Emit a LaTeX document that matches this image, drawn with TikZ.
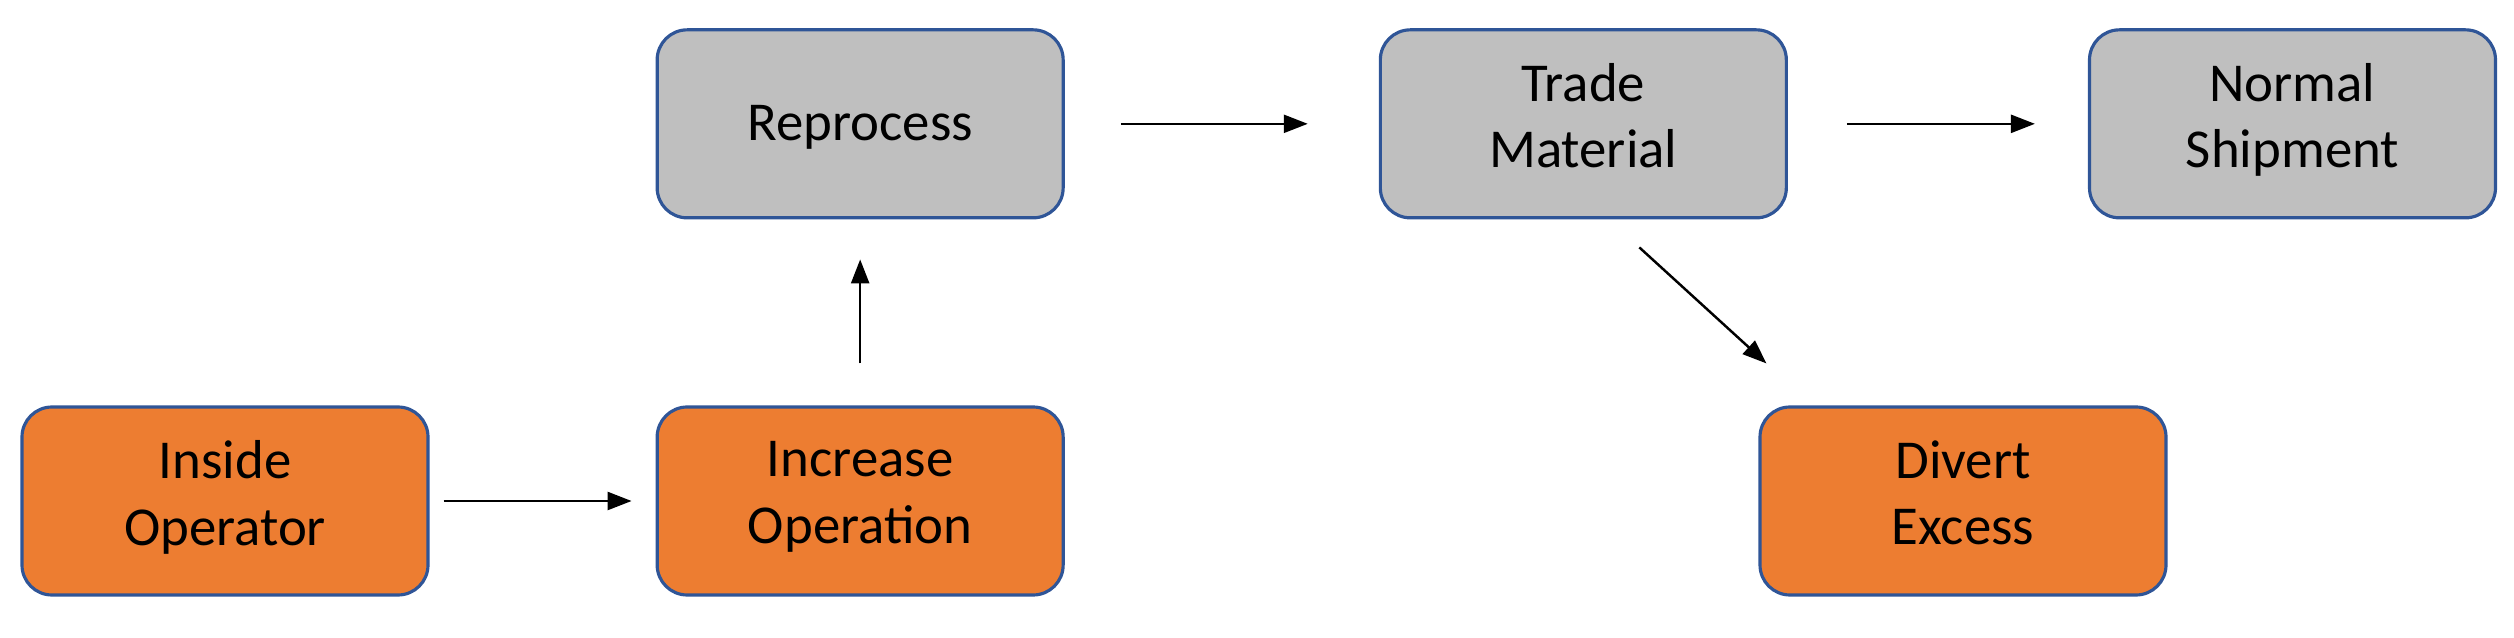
\documentclass[tikz,border=0pt]{standalone}
\usepackage{fontspec}
\setmainfont{Carlito}
\usetikzlibrary{arrows.meta,positioning,calc}
\definecolor{boxorange}{HTML}{ED7D31}
\definecolor{boxgray}{HTML}{BFBFBF}
\definecolor{boxedge}{HTML}{2F5597}

\begin{document}
\begin{tikzpicture}[
  >={Triangle[length=2.4mm,width=1.8mm]}, node distance=18.6mm and 22.6mm,
  box/.style={draw=boxedge, line width=0.9pt, rounded corners=3mm, align=center, minimum width=40.6mm, minimum height=18.8mm,
    font=\fontsize{15.6}{19}\selectfont,
    execute at begin node=\rule[-4.75pt]{0pt}{19pt}, execute at end node=\rule[-4.75pt]{0pt}{19pt}},
  act/.style={box, fill=boxorange},
  stage/.style={box, fill=boxgray},
  flow/.style={->, line width=0.7pt}]
  \useasboundingbox (0,0) rectangle (25.14,6.38);
  \node[act] (inside) at (2.25,1.37) {Inside\\Operator};
  \node[act, right=of inside] (increase) {Increase\\Operation};
  \node[stage, above=of increase] (reprocess) {Reprocess};
  \node[stage, right=31.4mm of reprocess] (trade) {Trade\\Material};
  \node[stage, right=30mm of trade] (normal) {Normal\\Shipment};
  \node[act] (divert) at (19.63,1.37) {Divert\\Excess};

  \draw[flow, shorten <=1.4mm, shorten >=2.4mm] (inside) -- (increase);
  \draw[flow, shorten <=4.2mm, shorten >=4mm] (increase) -- (reprocess);
  \draw[flow, shorten <=5.6mm, shorten >=7.1mm] (reprocess) -- (trade);
  \draw[flow, shorten <=5.9mm, shorten >=5.3mm] (trade) -- (normal);
  \draw[flow] ($(trade.south)+(0.56,-0.28)$) -- ($(divert.north west)+(0.08,0.42)$);
\end{tikzpicture}
\end{document}
